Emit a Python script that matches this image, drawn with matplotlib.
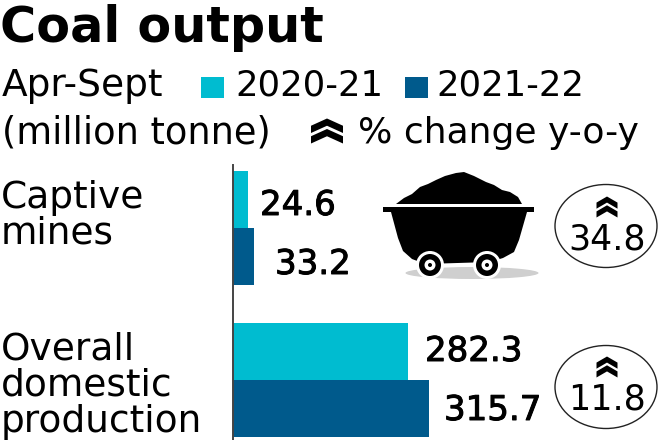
import matplotlib

matplotlib.use("Agg")
import matplotlib.pyplot as plt
import matplotlib.patheffects as pe
from matplotlib.patches import Ellipse, Polygon, Rectangle

plt.rcParams["font.family"] = ["DejaVu Sans"]

categories = ["Captive\nmines", "Overall\ndomestic\nproduction"]
seasons = ["2020-21", "2021-22"]
output_2020 = [24.6, 282.3]
output_2021 = [33.2, 315.7]
change_pct = ["34.8", "11.8"]

CYAN = "#00bcd0"
NAVY = "#005a8c"
W, H = 660, 440

fig = plt.figure(figsize=(W / 100, H / 100), dpi=100)

# overlay in pixel coords for the text and the little icons
bg = fig.add_axes([0, 0, 1, 1])
bg.set_xlim(0, W)
bg.set_ylim(H, 0)
bg.axis("off")

# bars: 0.62 px per million tonne, groups 151.5 px apart
ax = fig.add_axes([233 / W, 0, (W - 233) / W, 275 / H])
ax.set_xlim(0, (W - 233) / 0.62)
ax.set_ylim(1.399, -0.416)
h = 57 / 151.5
ys = range(len(categories))
ax.barh([y - h / 2 for y in ys], output_2020, height=h, color=CYAN)
ax.barh([y + h / 2 for y in ys], output_2021, height=h, color=NAVY)
for s in ("top", "right", "bottom"):
    ax.spines[s].set_visible(False)
ax.spines["left"].set_color("#444444")
ax.spines["left"].set_linewidth(1.4)
ax.set_xticks([])
ax.set_yticks([])
ax.patch.set_alpha(0)


def chevrons(x, y, w=20, tall=20):
    # double up-pointing chevron centred on x, y
    hw = w / 2
    one = tall * 0.58
    rise = one * 0.5
    th = one - rise
    for top in (y - tall / 2, y + tall / 2 - one):
        bg.add_patch(Polygon(
            [(x - hw, top + rise), (x, top), (x + hw, top + rise),
             (x + hw, top + one), (x, top + th), (x - hw, top + one)],
            closed=True, color="black", lw=0))


def cart():
    bg.add_patch(Ellipse((472, 273), 133, 12, color="#cfcfcf", lw=0))
    bg.add_patch(Polygon(
        [(396, 204), (404, 198), (412, 194), (420, 187), (428, 184), (436, 180), (445, 176),
         (456, 173), (464, 172), (474, 176), (486, 182), (494, 185), (502, 190), (510, 192),
         (518, 197), (522, 204)],
        closed=True, color="black", lw=0))
    bg.add_patch(Rectangle((383, 207.5), 151, 5, color="black", lw=0))
    bg.add_patch(Polygon(
        [(391, 212), (527, 212), (519, 240), (514, 252), (503, 258), (490, 262), (425, 264),
         (412, 259), (403, 251), (398, 238)],
        closed=True, color="black", lw=0))
    for cx in (430, 487):
        for r, c in ((14, "white"), (11, "black"), (5.5, "white"), (2, "black")):
            bg.add_patch(Ellipse((cx, 265), 2 * r, 2 * r, color=c, lw=0))


bg.text(0, 42, "Coal output", fontsize=35.5, fontweight="bold", va="baseline")
bg.text(2, 96, "Apr-Sept", fontsize=27, va="baseline")
bg.text(2, 143, "(million tonne)", fontsize=26.5, va="baseline")

for x0, colour, season, tx in zip((201, 405), (CYAN, NAVY), seasons, (235, 436)):
    bg.add_patch(Rectangle((x0, 77), 23, 21, color=colour, lw=0))
    bg.text(tx, 96, season, fontsize=25.5, va="baseline")

chevrons(327, 131, w=32, tall=25)
bg.text(358, 143, "% change y-o-y", fontsize=26, va="baseline")

for y0, name in zip((208, 360), categories):
    for i, line in enumerate(name.split("\n")):
        bg.text(1, y0 + i * 36, line, fontsize=27, va="baseline")

# value labels sit at their own offset from the bar end, as in the original
for x, y, v in zip((260, 275, 425, 444), (215, 274, 361, 420),
                   (output_2020[0], output_2021[0], output_2020[1], output_2021[1])):
    t = bg.text(x, y, f"{v:.1f}", fontsize=24.5, va="baseline")
    t.set_path_effects([pe.withStroke(linewidth=0.7, foreground="black")])

cart()

for cy, label, chev_y in zip((226, 387), change_pct, (207, 367)):
    bg.add_patch(Ellipse((606, cy), 102, 83, fill=False, ec="#222222", lw=1))
    chevrons(607, chev_y, w=21, tall=21)
    bg.text(607, cy + 23, label, fontsize=25, ha="center", va="baseline")

fig.savefig("out.png", dpi=100)
